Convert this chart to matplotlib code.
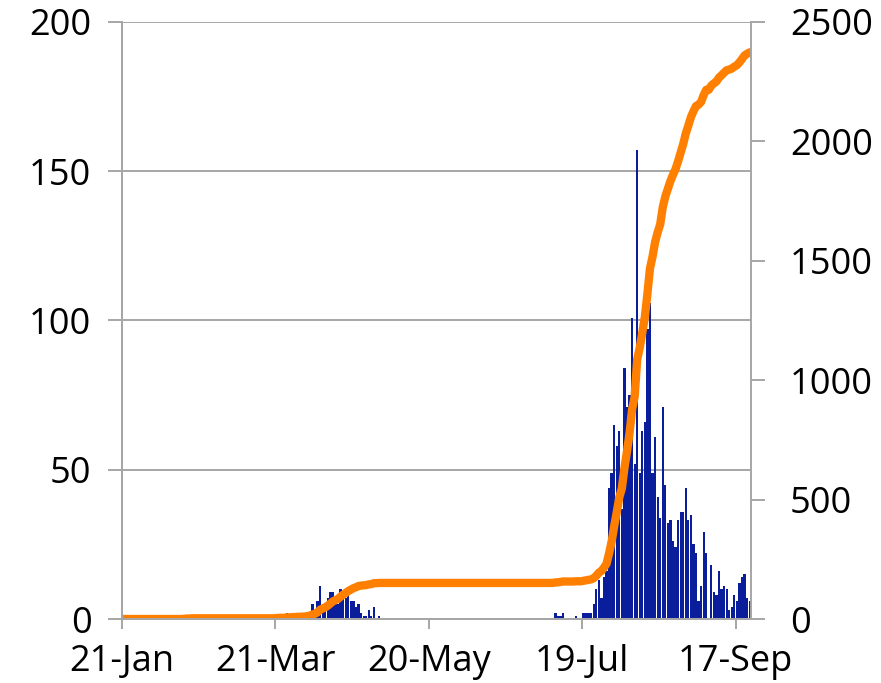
import matplotlib
matplotlib.use("Agg")
import matplotlib.pyplot as plt
import pandas as pd

# daily new cases (dates with no bar are zero)
start = pd.Timestamp("2020-01-21")
end = pd.Timestamp("2020-09-22")

early_dates = ["2020-02-14", "2020-02-15", "2020-02-17"]
early_cases = [1, 1, 1]

wave1_start = "2020-03-21"
wave1_cases = [1, 1, 0, 0, 2, 0, 1, 0, 1, 0, 1, 0, 2,
               2, 5, 3, 6, 11, 5, 5, 7, 9, 9, 5, 5, 10, 8,
               7, 8, 6, 6, 4, 5, 2, 1, 1, 3, 1, 4, 0, 1]

wave2_start = "2020-07-08"
wave2_cases = [2, 1, 1, 2, 0, 0, 0, 0, 1, 0, 0,
               2, 2, 2, 2, 5, 10, 13, 7, 14, 16,
               44, 49, 65, 58, 63, 37,
               84, 71, 75, 101, 52, 157,
               49, 63, 66, 97, 106, 49, 61, 41,
               34, 71, 45, 32, 33, 26, 24, 33, 36, 36,
               44, 33, 35, 25, 22, 6, 11, 29, 22, 0,
               18, 9, 8, 16, 10, 11, 10, 3, 4, 8, 6, 12, 14, 15, 7, 6]

tick_dates = ["2020-01-21", "2020-03-21", "2020-05-20", "2020-07-19", "2020-09-17"]
tick_labels = ["21-Jan", "21-Mar", "20-May", "19-Jul", "17-Sep"]

daily = pd.Series(0, index=pd.date_range(start, end))
for d, c in zip(early_dates, early_cases):
    daily[pd.Timestamp(d)] = c
for seg_start, seg in [(wave1_start, wave1_cases), (wave2_start, wave2_cases)]:
    daily[pd.date_range(seg_start, periods=len(seg))] = seg
total = daily.cumsum()

plt.rcParams['font.family'] = ['Open Sans', 'DejaVu Sans']
plt.rcParams['font.size'] = 26
grey = "#A6A6A6"

fig = plt.figure(figsize=(8.81, 6.83), dpi=100)
ax = fig.add_axes([0.1385, 0.0937, 0.7139, 0.8741])
ax2 = ax.twinx()

x = daily.index + pd.Timedelta(hours=12)
ax.bar(x, daily.values, width=0.88, color="#0A1E9B", linewidth=0)
ax2.plot(x, total.values, color="#FF8000", lw=6, solid_capstyle="round")

ax.set_xlim(start, end + pd.Timedelta(days=1))
ax.set_ylim(0, 200)
ax2.set_ylim(0, 2500)
ax.set_yticks([0, 50, 100, 150, 200])
ax2.set_yticks([0, 500, 1000, 1500, 2000, 2500])
ax.set_xticks(pd.to_datetime(tick_dates))
ax.set_xticklabels(tick_labels)

ax.yaxis.grid(True, color=grey, lw=1.4)
ax.set_axisbelow(True)
for a in (ax, ax2):
    a.spines["top"].set_visible(False)
    for s in ("left", "right", "bottom"):
        a.spines[s].set_color(grey)
        a.spines[s].set_linewidth(1.4)
ax.spines["right"].set_visible(False)
ax.tick_params(axis="y", length=10, width=1.4, color=grey, pad=12)
ax.tick_params(axis="x", length=7, width=1.4, color=grey, pad=11)
ax2.tick_params(axis="y", length=10, width=1.4, color=grey, pad=18)

fig.savefig("out.png", dpi=100)
